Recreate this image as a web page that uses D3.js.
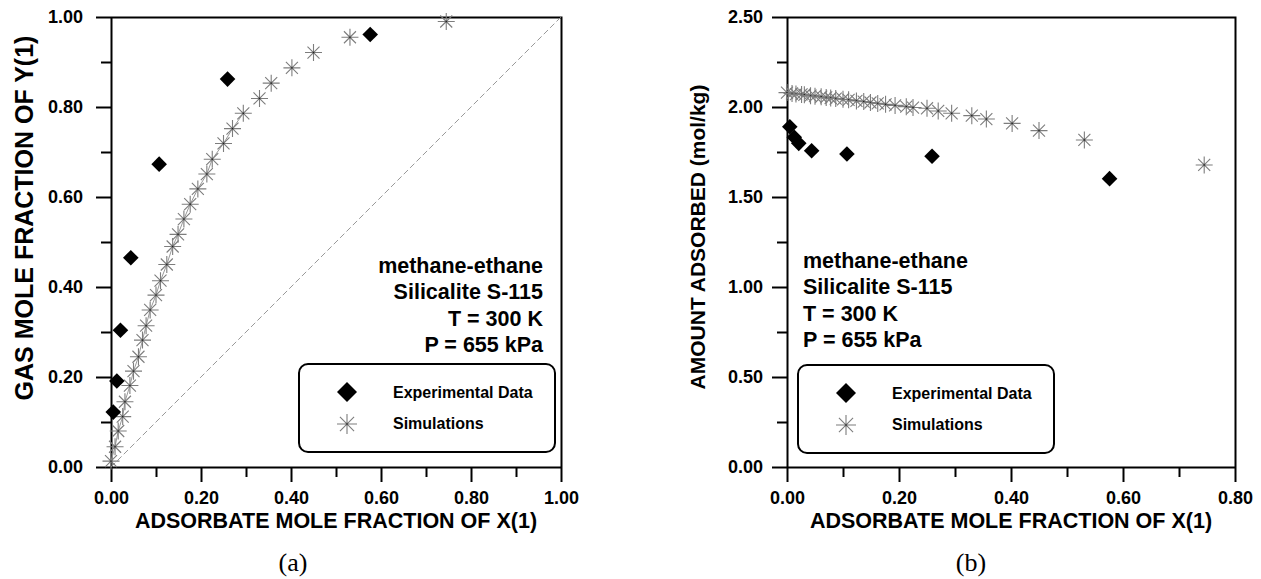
<!DOCTYPE html>
<html>
<head>
<meta charset="utf-8">
<script src="https://cdn.jsdelivr.net/npm/d3@7"></script>
<style>
  body { margin: 0; background: #fff; }
  svg { display: block; }
  text { font-family: "Liberation Sans", Arial, sans-serif; font-weight: bold; fill: #000; }
</style>
</head>
<body>
<div id="chart"></div>
<script>
// experimental points (same x in both panels)
var expX = [0.005, 0.013, 0.021, 0.044, 0.107, 0.259, 0.576];
var expY = [0.122, 0.191, 0.304, 0.465, 0.673, 0.862, 0.961];
var expAmount = [1.89, 1.832, 1.798, 1.757, 1.739, 1.726, 1.602];

// simulation points
var simX = [0.000, 0.009, 0.016, 0.026, 0.031, 0.042, 0.050, 0.061, 0.070, 0.078,
            0.087, 0.100, 0.110, 0.124, 0.137, 0.149, 0.162, 0.176, 0.193, 0.213,
            0.225, 0.250, 0.270, 0.294, 0.330, 0.356, 0.402, 0.450, 0.531, 0.745];
var simY = [0.013, 0.045, 0.080, 0.112, 0.145, 0.181, 0.213, 0.245, 0.282, 0.314,
            0.349, 0.382, 0.414, 0.450, 0.490, 0.517, 0.551, 0.584, 0.618, 0.651,
            0.684, 0.719, 0.752, 0.786, 0.819, 0.853, 0.887, 0.921, 0.955, 0.990];
var simAmount = [2.080, 2.075, 2.072, 2.070, 2.068, 2.063, 2.060, 2.057, 2.053, 2.050,
                 2.047, 2.043, 2.040, 2.034, 2.030, 2.025, 2.020, 2.015, 2.009, 2.002,
                 1.997, 1.993, 1.978, 1.965, 1.952, 1.933, 1.909, 1.869, 1.817, 1.678];

var ticksA = [0, 0.2, 0.4, 0.6, 0.8, 1.0];
var ticksAY = [0, 0.2, 0.4, 0.6, 0.8, 1.0];
var ticksBX = [0, 0.2, 0.4, 0.6, 0.8];
var ticksBY = [0, 0.5, 1.0, 1.5, 2.0, 2.5];
var infoLines = ["methane-ethane", "Silicalite S-115", "T = 300 K", "P = 655 kPa"];
var legendLabels = ["Experimental Data", "Simulations"];

var svg = d3.select("#chart").append("svg")
  .attr("width", 1261)
  .attr("height", 579);

var fmt = d3.format(".2f");

function star(g, cx, cy, r) {
  var p = "";
  [0, 45, 90, 135].forEach(function (a) {
    var dx = r * Math.cos(a * Math.PI / 180), dy = r * Math.sin(a * Math.PI / 180);
    p += "M" + (cx - dx) + "," + (cy - dy) + "L" + (cx + dx) + "," + (cy + dy);
  });
  g.append("path").attr("d", p).attr("stroke", "#7d7d7d").attr("stroke-width", 1.1).attr("fill", "none");
  g.append("rect").attr("x", cx - 0.7).attr("y", cy - 0.7).attr("width", 1.4).attr("height", 1.4).attr("fill", "#222");
}

function diamond(g, cx, cy, r) {
  g.append("path")
    .attr("d", "M" + cx + "," + (cy - r) + "L" + (cx + r) + "," + cy + "L" + cx + "," + (cy + r) + "L" + (cx - r) + "," + cy + "Z")
    .attr("fill", "#000");
}

function panel(o) {
  var g = svg.append("g");
  var x = d3.scaleLinear().domain(o.xDomain).range([o.left, o.right]);
  var y = d3.scaleLinear().domain(o.yDomain).range([467, 17]);

  // frame top + right
  g.append("path")
    .attr("d", "M" + o.left + ",17.5H" + (o.right + 0.5) + "V467")
    .attr("stroke", "#000").attr("stroke-width", 2).attr("fill", "none");

  // minor ticks
  g.append("g").attr("transform", "translate(0,467)")
    .call(d3.axisBottom(x).tickValues(o.xMinor).tickSize(10).tickFormat(""))
    .call(function (s) { s.select(".domain").remove(); s.selectAll("line").attr("stroke-width", 2); });
  g.append("g").attr("transform", "translate(" + o.left + ",0)")
    .call(d3.axisLeft(y).tickValues(o.yMinor).tickSize(10).tickFormat(""))
    .call(function (s) { s.select(".domain").remove(); s.selectAll("line").attr("stroke-width", 2); });

  var xa = g.append("g").attr("transform", "translate(0,467)")
    .call(d3.axisBottom(x).tickValues(o.xTicks).tickSize(15).tickSizeOuter(0).tickPadding(9).tickFormat(fmt));
  var ya = g.append("g").attr("transform", "translate(" + o.left + ",0)")
    .call(d3.axisLeft(y).tickValues(o.yTicks).tickSize(15).tickSizeOuter(0).tickPadding(o.yPad).tickFormat(fmt));
  [xa, ya].forEach(function (a) {
    a.select(".domain").attr("stroke-width", 2);
    a.selectAll("line").attr("stroke-width", 2);
    a.selectAll("text").style("font-size", "18px").style("font-family", "Liberation Sans, Arial, sans-serif").style("font-weight", "bold").attr("fill", "#000");
  });

  if (o.diagonal) {
    g.append("line")
      .attr("x1", x(0)).attr("y1", y(0)).attr("x2", x(1)).attr("y2", y(1))
      .attr("stroke", "#999").attr("stroke-width", 1).attr("stroke-dasharray", "6,3");
  }

  // line through the dense simulation points
  var lineIdx = d3.range(simX.length).filter(function (i) { return simX[i] <= o.lineMax; });
  g.append("path")
    .datum(lineIdx)
    .attr("fill", "none")
    .attr("stroke", o.lineColor)
    .attr("stroke-width", 1)
    .attr("d", d3.line()
      .x(function (i) { return x(simX[i]); })
      .y(function (i) { return y(o.simY[i]); }));

  simX.forEach(function (v, i) { star(g, x(v), y(o.simY[i]), 8.5); });
  expX.forEach(function (v, i) { diamond(g, x(v), y(o.expY[i]), 7.8); });

  // axis titles
  g.append("text")
    .attr("x", (o.left + o.right) / 2).attr("y", 528)
    .attr("text-anchor", "middle")
    .style("font-size", "21.5px")
    .text("ADSORBATE MOLE FRACTION OF X(1)");
  g.append("text")
    .attr("transform", "translate(" + o.yTitleX + "," + o.yTitleY + ") rotate(-90)")
    .attr("text-anchor", "middle")
    .attr("dy", "0.35em")
    .style("font-size", o.yTitleSize)
    .text(o.yTitle);

  // info block
  infoLines.forEach(function (t, i) {
    g.append("text")
      .attr("x", o.infoX).attr("y", o.infoY + i * 26.3)
      .attr("text-anchor", o.infoAnchor)
      .style("font-size", "21.5px")
      .text(t);
  });

  // legend
  var lg = g.append("g");
  lg.append("rect")
    .attr("x", o.legX).attr("y", o.legY).attr("width", 256).attr("height", 88)
    .attr("rx", 9).attr("ry", 9)
    .attr("fill", "#fff").attr("stroke", "#000").attr("stroke-width", 2);
  diamond(lg, o.legX + 48, o.legY + 28, 10);
  star(lg, o.legX + 48, o.legY + 60, 10);
  legendLabels.forEach(function (t, i) {
    lg.append("text")
      .attr("x", o.legX + 94).attr("y", o.legY + 34 + i * 31)
      .style("font-size", "16px")
      .text(t);
  });

  svg.append("text")
    .attr("x", o.capX).attr("y", 571)
    .attr("text-anchor", "middle")
    .style("font-family", "Liberation Serif, Times New Roman, serif")
    .style("font-weight", "normal")
    .style("font-size", "26px")
    .text(o.caption);
}

panel({
  left: 111, right: 561, xDomain: [0, 1], yDomain: [0, 1],
  xTicks: ticksA, yTicks: ticksAY,
  xMinor: [0.1, 0.3, 0.5, 0.7, 0.9], yMinor: [0.1, 0.3, 0.5, 0.7, 0.9],
  yPad: 13, expY: expY, simY: simY, diagonal: true,
  lineMax: 0.30, lineColor: "#9a9a9a",
  yTitle: "GAS MOLE FRACTION OF Y(1)", yTitleX: 24, yTitleY: 218, yTitleSize: "25px",
  infoX: 543, infoY: 273, infoAnchor: "end",
  legX: 299, legY: 364, capX: 293, caption: "(a)"
});

panel({
  left: 787, right: 1235, xDomain: [0, 0.8], yDomain: [0, 2.5],
  xTicks: ticksBX, yTicks: ticksBY,
  xMinor: [0.1, 0.3, 0.5, 0.7], yMinor: [0.25, 0.75, 1.25, 1.75, 2.25],
  yPad: 9, expY: expAmount, simY: simAmount, diagonal: false,
  lineMax: 0.23, lineColor: "#222",
  yTitle: "AMOUNT ADSORBED (mol/kg)", yTitleX: 698, yTitleY: 237, yTitleSize: "21px",
  infoX: 803, infoY: 268, infoAnchor: "start",
  legX: 798, legY: 365, capX: 971, caption: "(b)"
});
</script>
</body>
</html>
